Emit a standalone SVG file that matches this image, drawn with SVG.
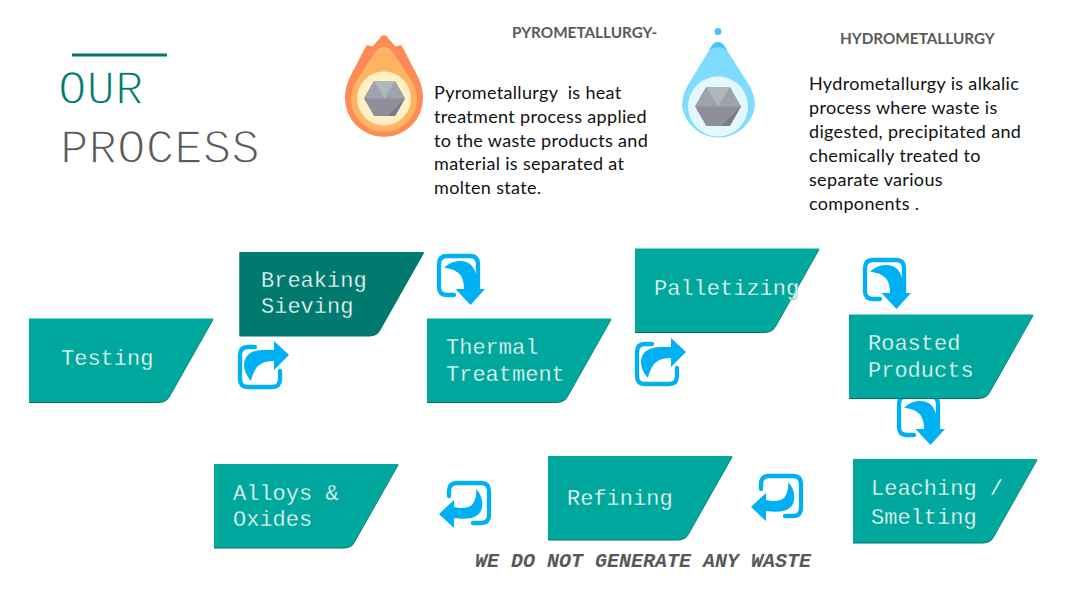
<svg xmlns="http://www.w3.org/2000/svg" width="1067" height="600" viewBox="0 0 1067 600">
<style>
.box{fill:#00a79d}
.edge{fill:#00756c}
.dark{fill:#00796f}
.nt{font-family:"Liberation Mono",monospace;font-size:22px;fill:#eefbf8;stroke:#00a79d;stroke-width:.3px}
.nd{stroke:#00796f}
.bt{font-family:Lato,"Liberation Sans",sans-serif;font-size:18px;letter-spacing:.33px;fill:#111;white-space:pre}
.hd{font-family:Lato,"Liberation Sans",sans-serif;font-size:15.3px;font-weight:bold;fill:#595959}
.ti{font-family:"Liberation Mono",monospace;font-size:47.6px;stroke:#fff;stroke-width:1.6px}
.fr{fill:none;stroke:#00b0f5;stroke-width:4.3;stroke-linecap:round}
.ar{fill:#00b0f5}
</style>
<defs>
<path id="shape" d="M0 0H184.500L141 77Q137.500 83.500 130 83.500H0Z"/>
<g id="down"><path class="fr" d="M17 41H10Q2 41 2 33V10Q2 2 10 2H33Q41 2 41 10V34"/><path class="ar" d="M7 14C14 6 27 5 33 10C39 15 41 24 40 35H48L33.500 51L18.500 35H27C27 27 25 21 20 18C16 15 11 14 7 14Z"/></g>
<g id="upright"><path class="fr" d="M17 2H10Q2 2 2 10V34Q2 42 10 42H34Q42 42 42 34V26"/><path class="ar" d="M13 36C4 26 4 15 11 9C18 4 26 5 36 5V-4L51 10L36 25V16C28 16 23 18 19 22C16 26 14 31 13 36Z"/></g>
<g id="back"><path class="fr" d="M2 15V10Q2 2 10 2H34Q42 2 42 10V34Q42 42 34 42H26"/><path class="ar" d="M29 8C35 14 37 22 34 30C30 37 22 39 7 37V47L-8 33L7 19V26C15 28 21 27 25 24C28 20 30 14 29 8Z"/></g>
<polygon id="hex" points="-20.500,0 -10.500,-17.500 10.500,-17.500 20.500,0 10.500,17.500 -10.500,17.500"/>
</defs>

<g id="title">
<line x1="72" y1="55" x2="167" y2="55" stroke="#00796f" stroke-width="3"/>
<text class="ti" x="58" y="104" fill="#00796f">OUR</text>
<text class="ti" x="60" y="163" fill="#595959">PROCESS</text>
</g>

<g id="pyro">
<path fill="#ff8a57" d="M384 35Q386 35 388 38L395 46Q398 47 400 45Q402 45 403 48L418 77Q423 87 423 98A39 39 0 0 1 345 98Q345 87 350 77L365 48Q366 45 368 45Q370 47 373 46L380 38Q382 35 384 35Z"/>
<path fill="#ffb463" d="M384 47Q390 47 394 54L411 80Q417 89 417 99A33 33 0 0 1 351 99Q351 89 357 80L374 54Q378 47 384 47Z"/>
<circle cx="384" cy="98.500" r="27" fill="#fff0c4"/>
<g transform="translate(384.500,98.500)">
<use href="#hex" fill="#8f8f9c"/>
<path fill="#9ea3ab" d="M-20.500 0L-10.500 -17.500H10.500L20.500 0Z"/>
<path fill="#aeb8bb" d="M-10.500 -17.500H10.500L0 0Z"/>
<path fill="#7c7c88" d="M20.500 0L10.500 17.500H3Z"/>
</g>
<text class="hd" x="512" y="37.500">PYROMETALLURGY-</text>
<text class="bt"><tspan x="434" y="99">Pyrometallurgy  is heat</tspan><tspan x="434" y="123">treatment process applied</tspan><tspan x="434" y="147">to the waste products and</tspan><tspan x="434" y="170">material is separated at</tspan><tspan x="434" y="194">molten state.</tspan></text>
</g>

<g id="hydro">
<circle cx="718" cy="31.500" r="3.500" fill="#40c4ff"/>
<path fill="#80dcff" d="M718 42Q722 42 725 47L749 85Q755 95 755 106.500A37 37 0 0 1 682 106.500Q682 95 688 85L711 47Q714 42 718 42Z"/>
<path fill="#40c4ff" d="M718 42Q722 42 725 47L727 50Q718 44 709 50L711 47Q714 42 718 42Z"/>
<circle cx="718" cy="106.500" r="30" fill="#e4f7ff"/>
<g transform="translate(718,106.500) scale(1.120)">
<use href="#hex" fill="#8f8f9c"/>
<path fill="#9ea3ab" d="M-20.500 0L-10.500 -17.500H10.500L20.500 0Z"/>
<path fill="#aeb8bb" d="M-10.500 -17.500H10.500L0 0Z"/>
<path fill="#7c7c88" d="M20.500 0L10.500 17.500H3Z"/>
</g>
<text class="hd" x="840" y="43.500">HYDROMETALLURGY</text>
<text class="bt"><tspan x="809" y="90">Hydrometallurgy is alkalic</tspan><tspan x="809" y="114">process where waste is</tspan><tspan x="809" y="138">digested, precipitated and</tspan><tspan x="809" y="162">chemically treated to</tspan><tspan x="809" y="186">separate various</tspan><tspan x="809" y="210">components .</tspan></text>
</g>

<g id="connectors">
<use href="#upright" x="238" y="345"/>
<use href="#down" x="437" y="254"/>
<use href="#upright" x="635" y="342"/>
<use href="#down" x="863" y="258"/>
<use href="#down" x="897" y="394"/>
<use href="#back" x="759" y="474"/>
<use href="#back" x="447" y="481"/>
</g>

<g id="testing"><use href="#shape" class="edge" x="29" y="319.500"/><use href="#shape" class="box" x="29" y="318.500"/><text class="nt" x="61" y="365">Testing</text></g>
<g id="breaking"><use href="#shape" class="edge" x="239.500" y="253"/><use href="#shape" class="dark" x="239.500" y="252"/><text class="nt nd" x="261" y="287">Breaking</text><text class="nt nd" x="261" y="313">Sieving</text></g>
<g id="thermal"><use href="#shape" class="edge" x="427" y="319.500"/><use href="#shape" class="box" x="427" y="318.500"/><text class="nt" x="446" y="354">Thermal</text><text class="nt" x="446" y="381">Treatment</text></g>
<g id="palletizing"><use href="#shape" class="edge" x="635" y="249.500"/><use href="#shape" class="box" x="635" y="248.500"/><text class="nt" x="654" y="295">Palletizing</text></g>
<g id="roasted"><use href="#shape" class="edge" x="849" y="315.500"/><use href="#shape" class="box" x="849" y="314.500"/><text class="nt" x="868" y="350">Roasted</text><text class="nt" x="868" y="377">Products</text></g>
<g id="leaching"><use href="#shape" class="edge" x="853" y="460"/><use href="#shape" class="box" x="853" y="459"/><text class="nt" x="871" y="495">Leaching /</text><text class="nt" x="871" y="524">Smelting</text></g>
<g id="refining"><use href="#shape" class="edge" x="548" y="457"/><use href="#shape" class="box" x="548" y="456"/><text class="nt" x="567" y="505">Refining</text></g>
<g id="alloys"><use href="#shape" class="edge" x="214" y="465"/><use href="#shape" class="box" x="214" y="464"/><text class="nt" x="233" y="500">Alloys &amp;</text><text class="nt" x="233" y="526">Oxides</text></g>

<text id="tagline" x="475" y="567" font-family="Liberation Mono,monospace" font-size="20" font-weight="bold" font-style="italic" fill="#595959">WE DO NOT GENERATE ANY WASTE</text>
</svg>
